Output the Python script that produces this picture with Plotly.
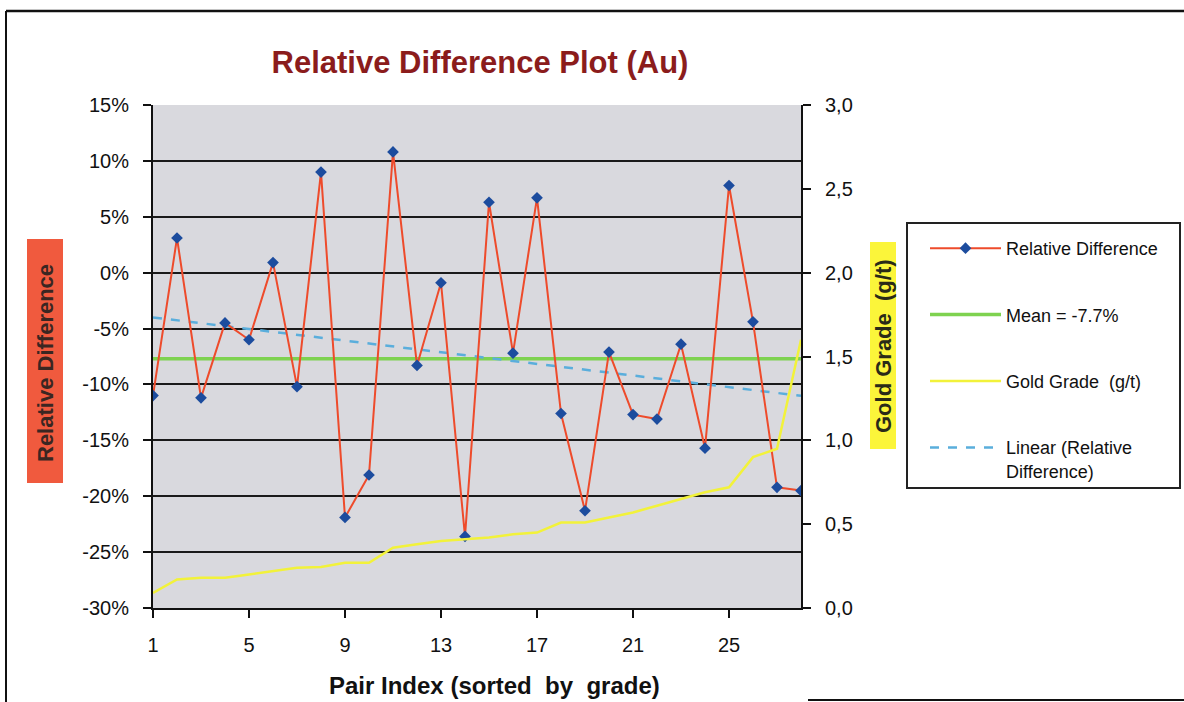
import numpy as np
import plotly.graph_objects as go

# ---- data -------------------------------------------------------------
PAIR_INDEX = list(range(1, 29))

# relative difference per pair, in percent
REL_DIFF = [-11.0, 3.1, -11.2, -4.5, -6.0, 0.9, -10.2, 9.0, -21.9, -18.1,
            10.8, -8.3, -0.9, -23.6, 6.3, -7.2, 6.7, -12.6, -21.3, -7.1,
            -12.7, -13.1, -6.4, -15.7, 7.8, -4.4, -19.2, -19.5]

# gold grade of each pair (g/t), sorted ascending
GOLD_GRADE = [0.09, 0.17, 0.18, 0.18, 0.20, 0.22, 0.24, 0.245, 0.27, 0.27,
              0.36, 0.38, 0.40, 0.41, 0.42, 0.44, 0.45, 0.51, 0.51, 0.54,
              0.57, 0.61, 0.65, 0.69, 0.72, 0.90, 0.95, 1.60]

MEAN_REL_DIFF = -7.7

LEFT_TICKS = [15, 10, 5, 0, -5, -10, -15, -20, -25, -30]
LEFT_TICK_TEXT = ["15%", "10%", "5%", "0%", "-5%", "-10%", "-15%", "-20%", "-25%", "-30%"]
RIGHT_TICKS = [0.0, 0.5, 1.0, 1.5, 2.0, 2.5, 3.0]
RIGHT_TICK_TEXT = ["0,0", "0,5", "1,0", "1,5", "2,0", "2,5", "3,0"]
X_TICKS = [1, 5, 9, 13, 17, 21, 25]

# ---- layout geometry (pixels) ------------------------------------------
W, H = 1184, 702
PL, PR, PT, PB = 153, 801, 105, 608   # plot area edges


def px(x):
    return (x - PL) / (PR - PL)


def py(y):
    return (PB - y) / (PB - PT)


FONT = "Liberation Sans, Arial, sans-serif"

# linear trend of the relative difference
slope, intercept = np.polyfit(PAIR_INDEX, REL_DIFF, 1)
trend = [slope * i + intercept for i in PAIR_INDEX]

fig = go.Figure()

fig.add_trace(go.Scatter(
    x=[PAIR_INDEX[0], PAIR_INDEX[-1]], y=[MEAN_REL_DIFF, MEAN_REL_DIFF],
    mode="lines", name="Mean = -7.7%", legendrank=2, legendgroup="g2",
    line=dict(color="#7ed250", width=3.5), hoverinfo="skip"))

fig.add_trace(go.Scatter(
    x=PAIR_INDEX, y=trend, mode="lines", name="Linear (Relative<br>Difference)",
    legendrank=4, legendgroup="g4",
    line=dict(color="#5aaedc", width=2.5, dash="dash"), hoverinfo="skip"))

fig.add_trace(go.Scatter(
    x=PAIR_INDEX, y=REL_DIFF, mode="lines+markers", name="Relative Difference",
    legendrank=1, legendgroup="g1",
    line=dict(color="#ee4b2b", width=2),
    marker=dict(symbol="diamond", size=9, color="#1c4c9e")))

fig.add_trace(go.Scatter(
    x=PAIR_INDEX, y=GOLD_GRADE, mode="lines", name="Gold Grade  (g/t)",
    legendrank=3, legendgroup="g3", yaxis="y2",
    line=dict(color="#f2f23a", width=2.5)))

shapes = [
    # legend frame
    dict(type="rect", xref="paper", yref="paper",
         x0=px(907), x1=px(1180), y0=py(488), y1=py(223),
         line=dict(color="#222", width=2), fillcolor="white", layer="below"),
    # axis title backgrounds
    dict(type="rect", xref="paper", yref="paper",
         x0=px(27), x1=px(63), y0=py(483), y1=py(239),
         line=dict(width=0), fillcolor="#f05a3e", layer="below"),
    dict(type="rect", xref="paper", yref="paper",
         x0=px(870), x1=px(896), y0=py(449), y1=py(242),
         line=dict(width=0), fillcolor="#fbf53a", layer="below"),
    # outer frame
    dict(type="line", xref="paper", yref="paper",
         x0=px(6), x1=px(1184), y0=py(11), y1=py(11),
         line=dict(color="#111", width=2.5)),
    dict(type="line", xref="paper", yref="paper",
         x0=px(6), x1=px(6), y0=py(11), y1=py(702),
         line=dict(color="#111", width=2)),
    dict(type="line", xref="paper", yref="paper",
         x0=px(808), x1=px(1184), y0=py(700), y1=py(700),
         line=dict(color="#111", width=2)),
]

annotations = [
    dict(text="<b>Relative Difference</b>", xref="paper", yref="paper",
         x=px(45), y=py(363), xanchor="center", yanchor="middle",
         textangle=-90, showarrow=False,
         font=dict(family=FONT, size=22, color="#3a2622")),
    dict(text="<b>Gold Grade  (g/t)</b>", xref="paper", yref="paper",
         x=px(883), y=py(346), xanchor="center", yanchor="middle",
         textangle=-90, showarrow=False,
         font=dict(family=FONT, size=22, color="#2a2a18")),
    dict(text="<b>Pair Index (sorted  by  grade)</b>", xref="paper", yref="paper",
         x=px(494), y=py(685), xanchor="center", yanchor="middle", showarrow=False,
         font=dict(family=FONT, size=24, color="#111")),
]

TICKFONT = dict(family=FONT, size=20, color="#111")

fig.update_layout(
    width=W, height=H,
    margin=dict(l=PL, r=W - PR, t=PT, b=H - PB),
    paper_bgcolor="white",
    plot_bgcolor="#d9d9de",
    font=dict(family=FONT, size=18, color="#111"),
    title=dict(text="<b>Relative Difference Plot (Au)</b>", x=px(480), xref="paper",
               xanchor="center", y=1 - 62 / H, yref="container", yanchor="middle",
               font=dict(family=FONT, size=31, color="#8b1c1c")),
    xaxis=dict(range=[PAIR_INDEX[0], PAIR_INDEX[-1]], tickvals=X_TICKS,
               showgrid=False, zeroline=False, showline=True, linecolor="#111",
               linewidth=2, ticks="outside", ticklen=8, tickwidth=2, tickcolor="#111",
               ticklabelstandoff=10, tickfont=TICKFONT),
    yaxis=dict(range=[-30, 15], tickvals=LEFT_TICKS, ticktext=LEFT_TICK_TEXT,
               showgrid=True, gridcolor="#1a1a1a", gridwidth=2, zeroline=False,
               showline=True, linecolor="#111", linewidth=2, ticks="outside",
               ticklen=8, tickwidth=2, tickcolor="#111",
               ticklabelstandoff=10, tickfont=TICKFONT),
    yaxis2=dict(range=[0, 3], tickvals=RIGHT_TICKS, ticktext=RIGHT_TICK_TEXT,
                overlaying="y", side="right", showgrid=False, zeroline=False,
                showline=True, linecolor="#111", linewidth=2, ticks="outside",
                ticklen=8, tickwidth=2, tickcolor="#111",
                ticklabelstandoff=10, tickfont=TICKFONT),
    showlegend=True,
    legend=dict(x=px(925), y=py(230), xanchor="left", yanchor="top",
                bgcolor="rgba(0,0,0,0)", borderwidth=0,
                font=dict(family=FONT, size=18, color="#111"),
                traceorder="grouped", tracegroupgap=40, itemwidth=71,
                valign="top"),
    shapes=shapes,
    annotations=annotations,
)

fig.write_html("out.html")
